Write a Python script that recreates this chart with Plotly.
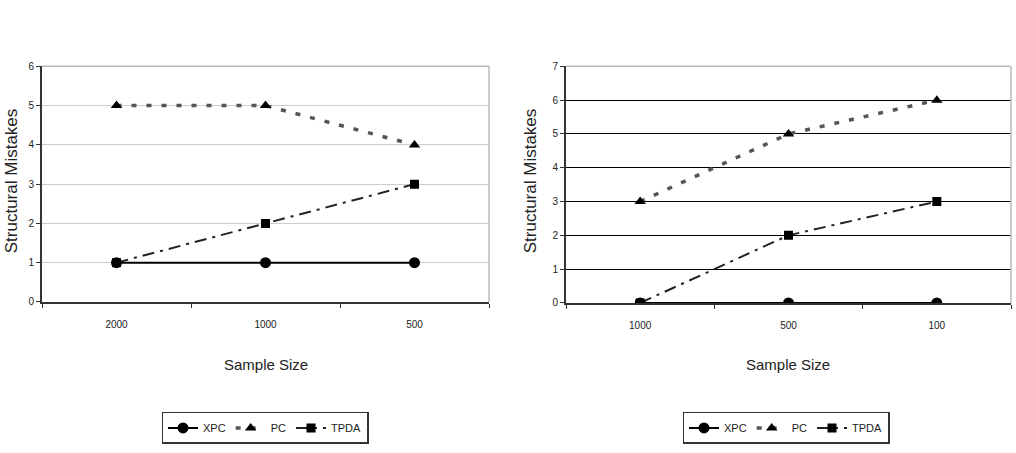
import plotly.graph_objects as go

categories_left = ["2000", "1000", "500"]
xpc_left = [1, 1, 1]
pc_left = [5, 5, 4]
tpda_left = [1, 2, 3]

categories_right = ["1000", "500", "100"]
xpc_right = [0, 0, 0]
pc_right = [3, 5, 6]
tpda_right = [0, 2, 3]

W, H = 1016, 453
def px(x): return x / W
def py(y): return 1 - y / H

narrow = "Liberation Sans Narrow, Arial Narrow, Liberation Sans, sans-serif"
sans = "Liberation Sans, Arial, sans-serif"

fig = go.Figure()

def add_series(cats, xpc, pc, tpda, xa, ya, leg):
    fig.add_trace(go.Scatter(x=cats, y=xpc, name="XPC", mode="lines+markers",
                             line=dict(color="black", width=2),
                             marker=dict(symbol="circle", size=11, color="black"),
                             xaxis=xa, yaxis=ya, legend=leg))
    fig.add_trace(go.Scatter(x=cats, y=pc, name="PC", mode="lines+markers",
                             line=dict(color="#555555", width=3.5, dash="5px,10px"),
                             marker=dict(symbol="triangle-up", size=10, color="black"),
                             xaxis=xa, yaxis=ya, legend=leg))
    fig.add_trace(go.Scatter(x=cats, y=tpda, name="TPDA", mode="lines+markers",
                             line=dict(color="#222222", width=2, dash="12px,6px,3px,6px"),
                             marker=dict(symbol="square", size=9, color="black"),
                             xaxis=xa, yaxis=ya, legend=leg))

add_series(categories_left, xpc_left, pc_left, tpda_left, "x", "y", "legend")
add_series(categories_right, xpc_right, pc_right, tpda_right, "x2", "y2", "legend2")

xcommon = dict(type="category", tickson="boundaries", ticks="outside", ticklen=4,
               tickcolor="#333", showline=True, linecolor="#333", linewidth=2,
               showgrid=False, tickfont=dict(family=narrow, size=10, color="#222"),
               ticklabelstandoff=12,
               range=[-0.5, 2.5], mirror=False, fixedrange=True)
ycommon = dict(ticks="outside", ticklen=4, tickcolor="#333", showline=True,
               linecolor="#333", linewidth=2, dtick=1,
               tickfont=dict(family=narrow, size=10, color="#222"), zeroline=False)

legcommon = dict(orientation="h", xanchor="center", y=py(417), yanchor="top",
                 bordercolor="#333", borderwidth=1.5,
                 font=dict(family=narrow, size=11, color="#222"),
                 itemwidth=30, tracegroupgap=0)

fig.update_layout(
    width=W, height=H, margin=dict(l=0, r=0, t=0, b=0),
    paper_bgcolor="white", plot_bgcolor="white",
    xaxis=dict(domain=[px(42), px(489)], anchor="y", **xcommon),
    yaxis=dict(domain=[py(304), py(62)], anchor="x", range=[0, 6],
               gridcolor="#cccccc", gridwidth=1, **ycommon),
    xaxis2=dict(domain=[px(566), px(1011)], anchor="y2", **xcommon),
    yaxis2=dict(domain=[py(305), py(62)], anchor="x2", range=[0, 7],
                gridcolor="black", gridwidth=1.2, **ycommon),
    showlegend=True,
    legend=dict(x=px(265), **legcommon),
    legend2=dict(x=px(786), **legcommon),
)

# plot borders (top / right)
for (x0, x1, y0, y1) in [(42, 489, 304, 62), (566, 1011, 305, 62)]:
    fig.add_shape(type="line", xref="paper", yref="paper", x0=px(x0), x1=px(x1),
                  y0=py(y1), y1=py(y1), line=dict(color="#bbbbbb", width=1.5))
    fig.add_shape(type="line", xref="paper", yref="paper", x0=px(x1), x1=px(x1),
                  y0=py(y0), y1=py(y1), line=dict(color="#bbbbbb", width=1.5))

annots = [
    dict(text="Sample Size", x=px(266), y=py(368), font=dict(family=narrow, size=15, color="#222")),
    dict(text="Sample Size", x=px(788), y=py(368), font=dict(family=narrow, size=15, color="#222")),
    dict(text="Structural Mistakes", x=px(11), y=py(180), textangle=-90,
         font=dict(family=sans, size=17, color="#222")),
    dict(text="Structural Mistakes", x=px(530), y=py(180), textangle=-90,
         font=dict(family=sans, size=17, color="#222")),
]
for a in annots:
    fig.add_annotation(xref="paper", yref="paper", showarrow=False,
                       xanchor="center", yanchor="middle", **a)

fig.write_html("out.html")
